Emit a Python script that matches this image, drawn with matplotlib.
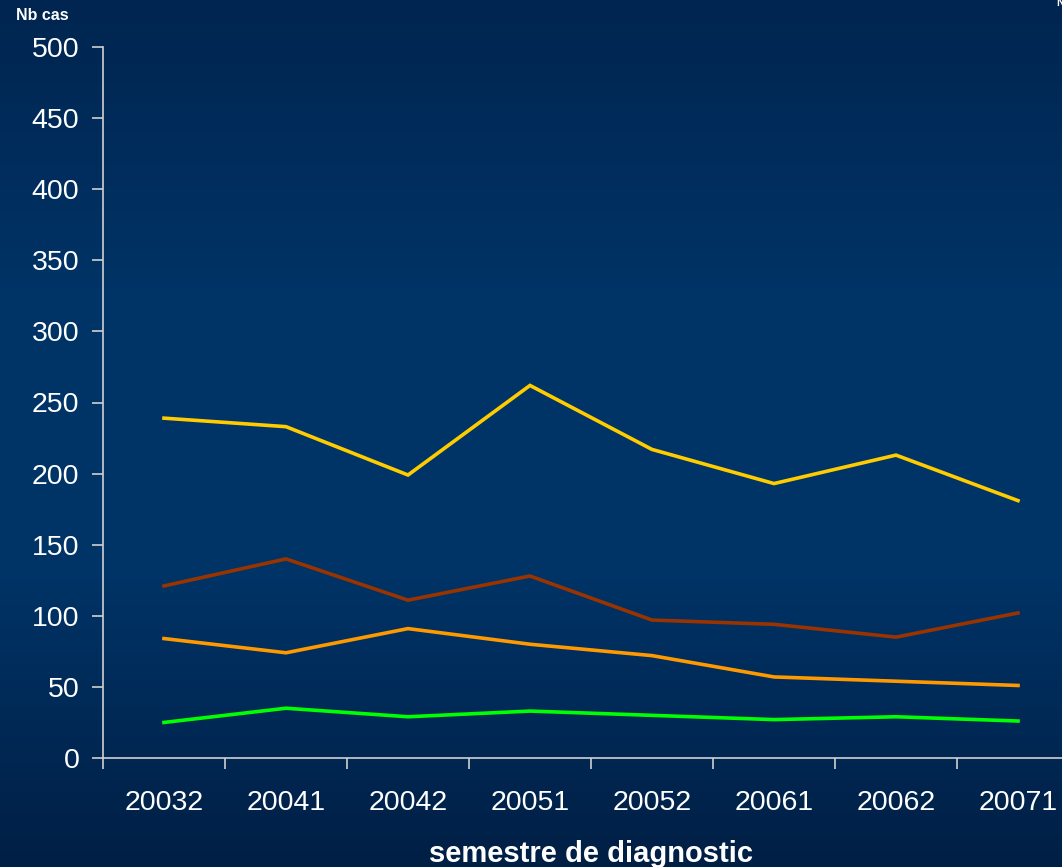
import numpy as np
import matplotlib
matplotlib.use("Agg")
import matplotlib.pyplot as plt
from matplotlib.colors import LinearSegmentedColormap

plt.rcParams['font.family'] = ['Liberation Sans', 'DejaVu Sans']

semestres = ["20032", "20041", "20042", "20051", "20052", "20061", "20062", "20071"]
jaune = [239, 233, 199, 262, 217, 193, 213, 181]
brun = [121, 140, 111, 128, 97, 94, 85, 102]
orange = [84, 74, 91, 80, 72, 57, 54, 51]
vert = [25, 35, 29, 33, 30, 27, 29, 26]

series = [(jaune, "#FFCC00"), (brun, "#993300"), (orange, "#FF9900"), (vert, "#00FF00")]

fig = plt.figure(figsize=(10.62, 8.67), dpi=100)

# fond en degrade vertical
bg = fig.add_axes([0, 0, 1, 1], zorder=0)
grad = np.linspace(0, 1, 256).reshape(-1, 1)
cmap = LinearSegmentedColormap.from_list("fond", ["#002550", "#003366", "#003366", "#001f45"])
bg.imshow(grad, aspect="auto", cmap=cmap, extent=[0, 1, 0, 1])
bg.axis("off")

ax = fig.add_axes([103 / 1062, 109 / 867, 976 / 1062, 711 / 867], zorder=1)
ax.patch.set_alpha(0)

x = np.arange(len(semestres))
for vals, col in series:
    ax.plot(x, vals, color=col, lw=2.6, solid_joinstyle="miter")

ax.set_xlim(-0.5, 7.5)
ax.set_ylim(0, 500)
ax.set_yticks(range(0, 501, 50))
ax.set_xticks(x)
ax.set_xticklabels(semestres)
ax.set_xticks(np.arange(-0.5, 8, 1), minor=True)
ax.tick_params(axis="x", which="major", length=0, pad=23, labelsize=20.5, colors="white")
ax.tick_params(axis="x", which="minor", length=8, width=1.2, color="#d0d0d0", direction="out")
ax.tick_params(axis="y", length=8, width=1.2, color="#d0d0d0", labelsize=20.5, labelcolor="white", pad=9)

for s in ["top", "right"]:
    ax.spines[s].set_visible(False)
for s in ["left", "bottom"]:
    ax.spines[s].set_color("#d0d0d0")
    ax.spines[s].set_linewidth(1.2)

fig.text(16 / 1062, 1 - 15 / 867, "Nb cas", color="white", fontsize=11.5, fontweight="bold", va="center", ha="left")
fig.text(591 / 1062, 1 - 854 / 867, "semestre de diagnostic", color="white", fontsize=21, fontweight="bold", va="center", ha="center")
fig.text(1056 / 1062, 1 - 3 / 867, "N", color="white", fontsize=8, fontweight="bold", va="center", ha="left")

fig.savefig("out.png", dpi=100)
